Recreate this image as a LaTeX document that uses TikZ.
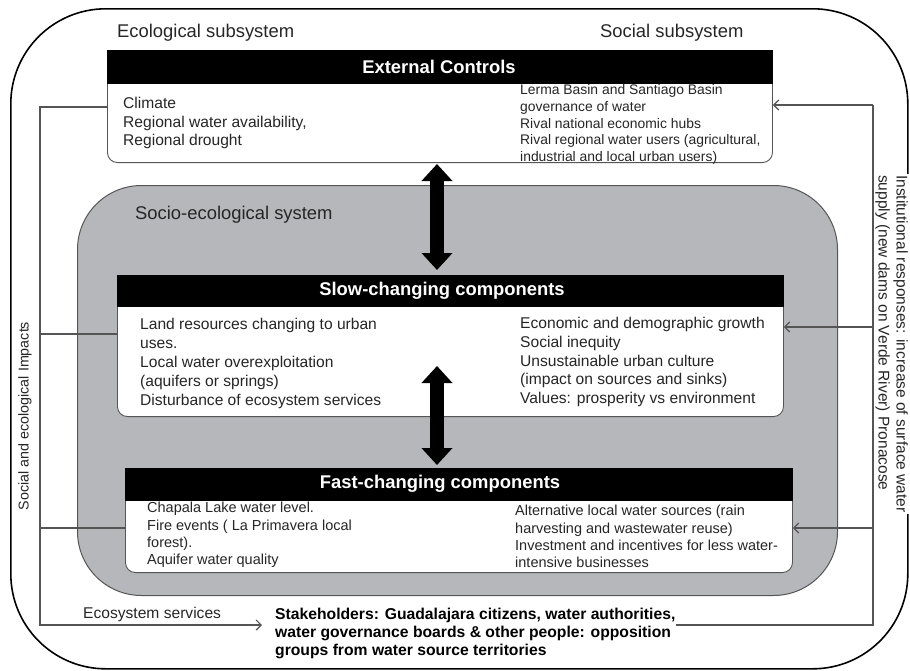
\documentclass[tikz,border=0pt]{standalone}
\usepackage{fontspec}
\setmainfont{Liberation Sans}
\usetikzlibrary{arrows.meta,calc}
\definecolor{sesgray}{RGB}{181,183,186}
\definecolor{linegray}{RGB}{85,85,85}
\begin{document}
\begin{tikzpicture}[x=1pt,y=-1pt,
  conn/.style={draw=linegray,line width=1.2pt},
  thinarrow/.style={-{Straight Barb[length=5pt,width=10pt]}},
  bigarrow/.style={line width=14pt,{Triangle[length=17pt 0,width=30pt 0]}-{Triangle[length=17pt 0,width=30pt 0]}},
  hdrbox/.style={fill=black,draw=black,inner sep=0,anchor=north west},
  hdrtext/.style={text=white,font=\fontsize{18.4}{20}\selectfont\bfseries,inner sep=0},
  bodybox/.style={draw=linegray,fill=white,line width=0.9pt,rounded corners=10pt,inner sep=0,anchor=south west},
  sublbl/.style={font=\fontsize{18.4}{21}\selectfont,inner sep=0,anchor=west,text=black!85},
  bodytext/.style={align=left,inner sep=0,anchor=north west,text=black!85},
]
\useasboundingbox (0,0) rectangle (910,670);
\fill[white] (0,0) rectangle (910,670);

% outer frame
\node[draw=black,line width=1.6pt,rounded corners=95pt,minimum width=897pt,minimum height=660pt,inner sep=0,anchor=north west] (outer) at (10,8) {};

% socio-ecological system
\node[draw=linegray,fill=sesgray,line width=1pt,rounded corners=64pt,minimum width=760pt,minimum height=410pt,inner sep=0,anchor=north west] (ses) at (77,185) {};

% coordinates for feedback lines
\coordinate (ltop) at (40,107);
\coordinate (lslow) at (40,334);
\coordinate (lfast) at (40,528);
\coordinate (lbot) at (40,625);
\coordinate (rtop) at (873,105);
\coordinate (rslow) at (873,327);
\coordinate (rfast) at (873,528);
\coordinate (rbot) at (873,625);

% boxes
\node[bodybox,minimum width=665pt,minimum height=93pt] (extbody) at (107,163) {};
\node[hdrbox,minimum width=665pt,minimum height=33pt] (exthead) at (107,50) {};
\node[bodybox,minimum width=666pt,minimum height=127pt] (slowbody) at (117,417) {};
\node[hdrbox,minimum width=666pt,minimum height=31pt] (slowhead) at (117,275) {};
\node[bodybox,minimum width=667pt,minimum height=88pt] (fastbody) at (125,573) {};
\node[hdrbox,minimum width=667pt,minimum height=32pt] (fasthead) at (125,468) {};

\node[hdrtext] (exttitle) at (439,66.5) {External Controls};
\node[hdrtext] (slowtitle) at (442,290.5) {Slow-changing components};
\node[hdrtext] (fasttitle) at (440,484) {Fast-changing components};

% labels
\node[sublbl] (ecolbl) at (117,33) {Ecological subsystem};
\node[sublbl] (soclbl) at (600,33) {Social subsystem};
\node[sublbl] (seslbl) at (135,215) {Socio-ecological system};

% body texts
\node[bodytext,font=\fontsize{15.6}{18.5}\selectfont] (extL) at (123,97)
  {Climate\\Regional water availability,\\Regional drought};
\node[bodytext,font=\fontsize{13.9}{16.7}\selectfont] (extR) at (520,84.5)
  {Lerma Basin and Santiago Basin\\governance of water\\Rival national economic hubs\\Rival regional water users (agricultural,\\industrial and local urban users)};
\node[bodytext,font=\fontsize{15.6}{19}\selectfont] (slowL) at (140,318)
  {Land resources changing to urban\\uses.\\Local water overexploitation\\(aquifers or springs)\\Disturbance of ecosystem services};
\node[bodytext,font=\fontsize{15.6}{18.8}\selectfont] (slowR) at (520,317)
  {Economic and demographic growth\\Social inequity\\Unsustainable urban culture\\(impact on sources and sinks)\\Values: prosperity vs environment};
\node[bodytext,font=\fontsize{14.5}{17.3}\selectfont] (fastL) at (147,502)
  {Chapala Lake water level.\\Fire events ( La Primavera local\\forest).\\Aquifer water quality};
\node[bodytext,font=\fontsize{14.5}{17.4}\selectfont] (fastR) at (515,505)
  {Alternative local water sources (rain\\harvesting and wastewater reuse)\\Investment and incentives for less water-\\intensive businesses};
\node[bodytext,font=\fontsize{15.7}{18}\selectfont\bfseries,text=black] (stake) at (275,608)
  {Stakeholders: Guadalajara citizens, water authorities,\\water governance boards \& other people: opposition\\groups from water source territories};
\node[inner sep=0,anchor=west,font=\fontsize{15.6}{18}\selectfont,text=black!85] (ecoserv) at (83,614) {Ecosystem services};

% rotated labels
\node[rotate=90,inner sep=0,font=\fontsize{14.3}{17}\selectfont,text=black!85] (impacts) at (25,416) {Social and ecological Impacts};
\node[rotate=-90,anchor=north west,align=left,fill=white,inner sep=1pt,font=\fontsize{15.5}{18}\selectfont,text=black!85] (instresp) at (909,174)
  {Institutional responses: increase of surface water\\supply (new dams on Verde River) Pronacose};

% feedback connectors (left)
\draw[conn,thinarrow] (extbody.west |- ltop) -- (ltop) -- (lbot) -- ($(lbot -| stake.west)+(-13,0)$);
\draw[conn] (lslow) -- (lslow -| slowbody.west);
\draw[conn] (lfast) -- (lfast -| fastbody.west);

% feedback connectors (right)
\draw[conn] (rbot -| stake.east) -- (rbot) -- (rtop);
\draw[conn,thinarrow] (rtop) -- (rtop -| extbody.east);
\draw[conn,thinarrow] (rslow) -- (rslow -| slowbody.east);
\draw[conn,thinarrow] (rfast) -- (rfast -| fastbody.east);

% big double arrows
\coordinate (a1t) at (437,164);
\coordinate (a1b) at (437,270);
\coordinate (a2t) at (437,366);
\coordinate (a2b) at (437,465);
\draw[bigarrow] (a1t) -- (a1b);
\draw[bigarrow] (a2t) -- (a2b);
\end{tikzpicture}
\end{document}
